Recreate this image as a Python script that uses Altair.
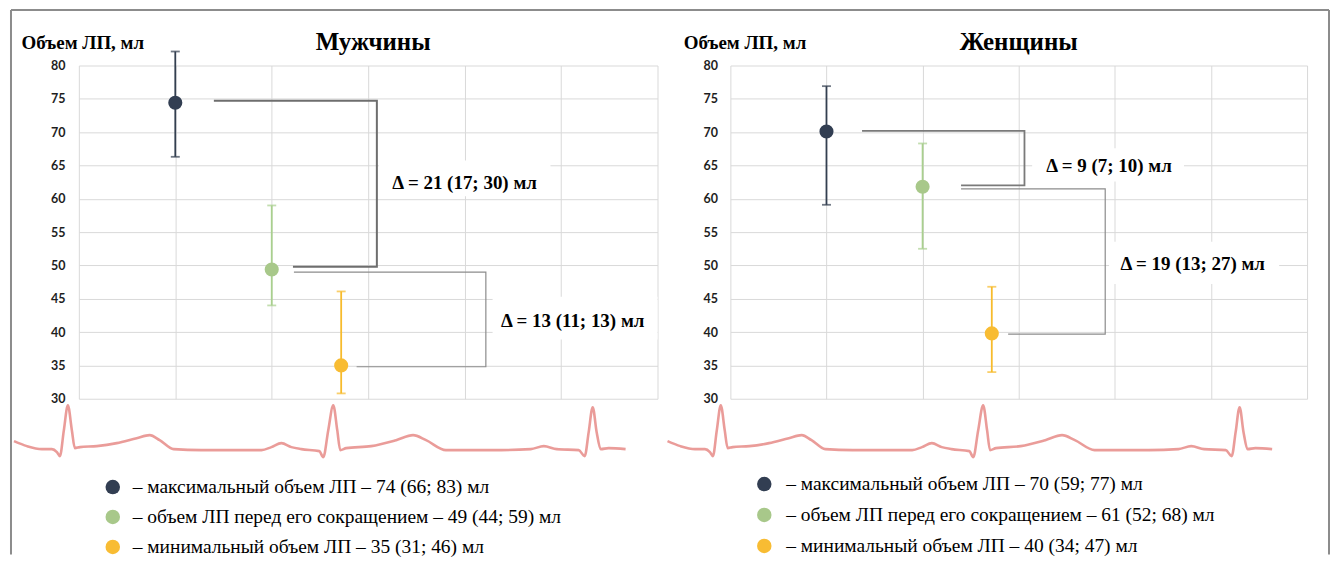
import altair as alt
import pandas as pd

# ---------------- data ----------------
X_GRID = [0, 1, 2, 3, 4, 5, 6]
Y_TICKS = [30, 35, 40, 45, 50, 55, 60, 65, 70, 75, 80]
LEGEND_ROWS = [0, 1, 2]

POINT_COLORS = ["#323E52", "#A8C88A", "#F8BC33"]
BAR_COLORS = ["#333F50", "#A9D08E", "#F7BB2C"]

# Men
men_title = "Мужчины"
men_labels = [
    "– максимальный объем ЛП – 74 (66; 83) мл",
    "– объем ЛП перед его сокращением – 49 (44; 59) мл",
    "– минимальный объем ЛП – 35 (31; 46) мл",
]
men_x = [1.0, 2.0, 2.72]
men_median = [74.4, 49.4, 35.0]
men_low = [66.3, 44.0, 30.8]
men_high = [82.1, 59.0, 46.1]
men_br1_x = [1.40, 3.09, 3.09, 2.22]
men_br1_y = [74.7, 74.7, 49.8, 49.8]
men_br2_x = [2.23, 4.22, 4.22, 2.88]
men_br2_y = [49.0, 49.0, 34.8, 34.8]
men_delta_text = ["Δ = 21 (17; 30) мл", "Δ = 13 (11; 13) мл"]
men_delta_x = [4.0, 5.12]
men_delta_y = [62.3, 41.6]
men_box_x1 = [3.11, 4.29]
men_box_x2 = [4.89, 6.0]
men_box_y1 = [60.4, 38.9]
men_box_y2 = [65.75, 45.3]

# Women
women_title = "Женщины"
women_labels = [
    "– максимальный объем ЛП – 70 (59; 77) мл",
    "– объем ЛП перед его сокращением – 61 (52; 68) мл",
    "– минимальный объем ЛП – 40 (34; 47) мл",
]
women_x = [1.0, 2.0, 2.72]
women_median = [70.1, 61.8, 39.8]
women_low = [59.1, 52.5, 34.0]
women_high = [76.9, 68.3, 46.8]
women_br1_x = [1.37, 3.06, 3.06, 2.40]
women_br1_y = [70.2, 70.2, 62.0, 62.0]
women_br2_x = [2.40, 3.90, 3.90, 2.89]
women_br2_y = [61.5, 61.5, 39.7, 39.7]
women_delta_text = ["Δ = 9 (7; 10) мл", "Δ = 19 (13; 27) мл"]
women_delta_x = [3.94, 4.81]
women_delta_y = [64.9, 50.2]
women_box_x1 = [3.14, 3.94]
women_box_x2 = [4.72, 5.71]
women_box_y1 = [62.6, 47.2]
women_box_y2 = [67.6, 53.55]

# ECG trace (time units, amplitude units)
ecg_time = [0, 13, 28, 38, 43, 46, 50, 54, 58, 61, 66, 83, 103, 123, 136, 146, 160, 188,
            248, 258, 268, 278, 288, 306, 310, 315, 320, 324, 327, 333, 358, 383, 400, 413,
            433, 488, 518, 531, 544, 566, 572, 576, 580, 584, 588, 596, 613]
ecg_amp = [7, 2, -1, -1, -4, -8, 18, 43, 18, 0, 1, 2, 5, 10, 13, 8, -1, -2,
           -2, 1, 5, 1, -1, -3, -9, 18, 43, 18, -2, 0, 2, 8, 13, 8,
           -2, -2, -1, 2, -1, -2, -8, 16, 41, 16, -1, 0, -1]

SERIF = "Liberation Serif"


def make_panel(title, labels, xs, med, low, high, brackets, deltas, boxes,
               width, title_x, label_pad, legend_range, legend_text_x, ecg_xrange,
               title_shift, with_frame):
    xscale = alt.Scale(domain=[0, 6], nice=False, zero=False)
    yscale = alt.Scale(domain=[30, 80], nice=False, zero=False)
    xaxis = alt.Axis(values=X_GRID, grid=True, gridColor="#D9D9D9", gridWidth=1,
                     labels=False, ticks=False, domain=False, title=None)
    yaxis = alt.Axis(values=Y_TICKS, grid=True, gridColor="#D9D9D9", gridWidth=1,
                     ticks=False, domain=False,
                     labelFont="Lato", labelFontSize=12.5, labelFontWeight="bold",
                     labelColor="#1E1E1E", labelPadding=label_pad,
                     title="Объем ЛП, мл", titleAngle=0, titleAlign="left",
                     titleBaseline="alphabetic", titleX=title_x, titleY=-17,
                     titleFont=SERIF, titleFontSize=19,
                     titleFontWeight="bold", titleColor="black")

    def X(f):
        return alt.X(f, type="quantitative", scale=xscale, axis=xaxis)

    def Y(f):
        return alt.Y(f, type="quantitative", scale=yscale, axis=yaxis)

    color_scale = alt.Scale(domain=labels, range=POINT_COLORS)
    bar_scale = alt.Scale(domain=labels, range=BAR_COLORS)
    pts = pd.DataFrame({"cat": labels, "x": xs, "y": med, "lo": low, "hi": high})
    one = pd.DataFrame({"k": [0]})

    layers = []

    box_df = pd.DataFrame({"x": boxes[0], "x2": boxes[1], "y": boxes[2], "y2": boxes[3]})
    layers.append(alt.Chart(box_df).mark_rect(color="white").encode(
        X("x"), x2="x2:Q", y=Y("y"), y2="y2:Q"))

    for (bx, by, col, sw) in brackets:
        bdf = pd.DataFrame({"x": bx, "y": by, "o": list(range(len(bx)))})
        layers.append(alt.Chart(bdf).mark_line(color=col, strokeWidth=sw).encode(
            X("x"), Y("y"), order="o:Q"))

    layers.append(alt.Chart(pts).mark_rule(strokeWidth=1.8).encode(
        X("x"), Y("lo"), y2="hi:Q",
        stroke=alt.Stroke("cat:N", scale=bar_scale, legend=None)))
    for f in ["lo", "hi"]:
        layers.append(alt.Chart(pts).mark_tick(orient="horizontal", size=9, thickness=1.8).encode(
            X("x"), Y(f),
            fill=alt.Fill("cat:N", scale=bar_scale, legend=None)))

    layers.append(alt.Chart(pts).mark_circle(size=200, opacity=1).encode(
        X("x"), Y("y"),
        color=alt.Color("cat:N", scale=color_scale, legend=None)))

    dt = pd.DataFrame({"x": deltas[1], "y": deltas[2], "t": deltas[0]})
    layers.append(alt.Chart(dt).mark_text(font=SERIF, fontSize=19,
                                          fontWeight="bold", color="black",
                                          align="center", baseline="middle").encode(
        X("x"), Y("y"), text="t:N"))

    # panel title
    layers.append(alt.Chart(one).mark_text(font=SERIF, fontSize=25, fontWeight="bold",
                                           color="black", align="center",
                                           baseline="alphabetic").encode(
        x=alt.value(width / 2 + title_shift), y=alt.value(-15.2), text=alt.value(title)))

    if with_frame:
        fc = "#8C8C8C"
        layers.append(alt.Chart(one).mark_rule(color=fc, strokeWidth=2).encode(
            x=alt.value(-68), x2=alt.value(1253), y=alt.value(-55.5)))
        layers.append(alt.Chart(one).mark_rule(color=fc, strokeWidth=2).encode(
            x=alt.value(-68), y=alt.value(-55.5), y2=alt.value(490)))
        layers.append(alt.Chart(one).mark_rule(color=fc, strokeWidth=2).encode(
            x=alt.value(1253), y=alt.value(-55.5), y2=alt.value(490)))

    main = alt.layer(*layers)

    ecg_df = pd.DataFrame({"t": ecg_time, "a": ecg_amp})
    ecg = alt.Chart(ecg_df).mark_line(color="#E8918E", strokeWidth=2.6, opacity=0.9,
                                      interpolate="monotone").encode(
        x=alt.X("t:Q", scale=alt.Scale(domain=[0, 613], range=ecg_xrange, nice=False, zero=False), axis=None),
        y=alt.Y("a:Q", scale=alt.Scale(domain=[0, 43], range=[383.5, 340.5], nice=False, zero=False), axis=None),
    )

    leg_df = pd.DataFrame({"cat": labels, "row": LEGEND_ROWS})
    ly = alt.Y("row:Q", scale=alt.Scale(domain=[0, 2], range=legend_range, nice=False, zero=False),
               axis=None)
    legend = alt.layer(
        alt.Chart(leg_df).mark_circle(size=210, opacity=1).encode(
            x=alt.value(34), y=ly,
            color=alt.Color("cat:N", scale=color_scale, legend=None)),
        alt.Chart(leg_df).mark_text(font=SERIF, fontSize=19.5, color="black",
                                    align="left", baseline="middle").encode(
            x=alt.value(legend_text_x), y=ly, text="cat:N"),
    )

    return alt.layer(main, ecg, legend).resolve_scale(x="independent", y="independent").properties(
        width=width, height=334)


left = make_panel(
    men_title, men_labels, men_x, men_median, men_low, men_high,
    [(men_br1_x, men_br1_y, "#6E6E6E", 2.0), (men_br2_x, men_br2_y, "#8C8C8C", 1.2)],
    (men_delta_text, men_delta_x, men_delta_y),
    (men_box_x1, men_box_x2, men_box_y1, men_box_y2),
    580, -58, 14, [422.5, 482.5], 54, [-65, 548], 5, True)

right = make_panel(
    women_title, women_labels, women_x, women_median, women_low, women_high,
    [(women_br1_x, women_br1_y, "#7A7A7A", 1.8), (women_br2_x, women_br2_y, "#8C8C8C", 1.2)],
    (women_delta_text, women_delta_x, women_delta_y),
    (women_box_x1, women_box_x2, women_box_y1, women_box_y2),
    578, -47.3, 13, [419.5, 481.5], 56, [-63, 543], 0, False)

chart = alt.hconcat(left, right, spacing=73, bounds="flush", padding=0,
                    background="white").resolve_scale(
    color="independent", stroke="independent", fill="independent",
    x="independent", y="independent").configure_view(stroke="transparent")

chart.save("out.html", embed_options={"renderer": "svg", "actions": False})
